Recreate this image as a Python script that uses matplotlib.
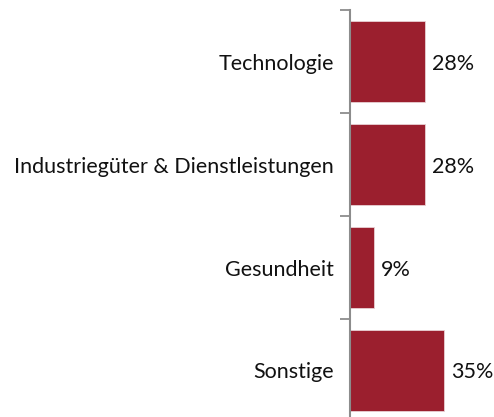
import matplotlib
matplotlib.use("Agg")
import numpy as np
from matplotlib import pyplot as plt

# sector weights in percent
sectors = ["Technologie", "Industriegüter & Dienstleistungen", "Gesundheit", "Sonstige"]
weights = [28, 28, 9, 35]

bar_color = "#9b1f2e"

plt.rcParams["font.family"] = ["Lato", "DejaVu Sans"]

fig = plt.figure(figsize=(4.94, 4.17), dpi=100)
ax = fig.add_axes([350 / 494, -5 / 417, 110 / 494, 412 / 417])

y = np.arange(len(sectors))
ax.barh(y, weights, height=0.79, color=bar_color, edgecolor="#e8d0d3", linewidth=0.6)

ax.set_xlim(0, 41)
ax.set_ylim(len(sectors) - 0.5, -0.5)

# ticks sit on the category boundaries, labels drawn separately
ax.set_yticks(np.arange(len(sectors) + 1) - 0.5)
ax.set_yticklabels([])
ax.tick_params(axis="y", direction="out", length=7, width=1.3, color="#8c8c8c")
ax.set_xticks([])

for side in ["top", "right", "bottom"]:
    ax.spines[side].set_visible(False)
ax.spines["left"].set_color("#8c8c8c")
ax.spines["left"].set_linewidth(1.5)

for i, (name, w) in enumerate(zip(sectors, weights)):
    ax.annotate(name, xy=(0, i), xytext=(-16, -8), textcoords="offset pixels",
                ha="right", va="baseline", fontsize=15.5, color="#111111")
    ax.annotate(f"{w}%", xy=(w, i), xytext=(7, -8), textcoords="offset pixels",
                ha="left", va="baseline", fontsize=15.5, color="#111111")

fig.savefig("out.png", dpi=100)
